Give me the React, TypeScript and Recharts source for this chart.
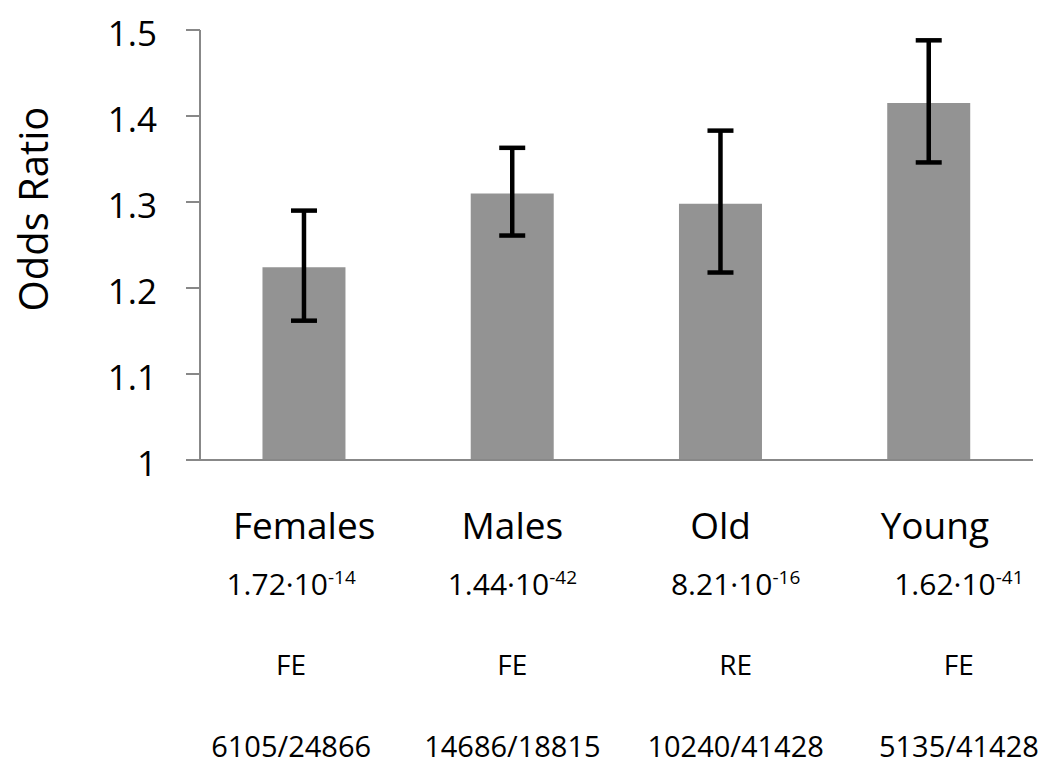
import React from "react";
import { BarChart, Bar, XAxis, YAxis, ErrorBar } from "recharts";

const categories = ["Females", "Males", "Old", "Young"];
const oddsRatio = [1.224, 1.31, 1.298, 1.415];
const ciLow = [1.162, 1.261, 1.218, 1.346];
const ciHigh = [1.29, 1.363, 1.383, 1.488];
const pMantissa = ["1.72", "1.44", "8.21", "1.62"];
const pExponent = ["-14", "-42", "-16", "-41"];
const models = ["FE", "FE", "RE", "FE"];
const counts = ["6105/24866", "14686/18815", "10240/41428", "5135/41428"];
const yTicks = [1, 1.1, 1.2, 1.3, 1.4, 1.5];

// layout-only horizontal nudges of the label lines (px)
const TITLE_SHIFT = [0, 0, 0, 6];
const LOWER_SHIFT = [-13, 0, 15, 30];

const data = categories.map((name, i) => ({
  name,
  or: oddsRatio[i],
  err: [oddsRatio[i] - ciLow[i], ciHigh[i] - oddsRatio[i]],
}));

const FONT = "'Open Sans', sans-serif";

const CategoryTick = (props: any) => {
  const { x, y, payload } = props;
  const i = categories.indexOf(payload.value);
  const s = LOWER_SHIFT[i] ?? 0;
  const t = TITLE_SHIFT[i] ?? 0;
  return (
    <g fontFamily={FONT} fill="#000">
      <text x={x + t} y={y + 79} textAnchor="middle" fontSize={37}>
        {payload.value}
      </text>
      <text x={x + s} y={y + 135} textAnchor="middle" fontSize={30}>
        {pMantissa[i]}·10
        <tspan fontSize={19} dy={-11}>
          {pExponent[i]}
        </tspan>
      </text>
      <text x={x + s} y={y + 215} textAnchor="middle" fontSize={28}>
        {models[i]}
      </text>
      <text x={x + s} y={y + 297} textAnchor="middle" fontSize={29}>
        {counts[i]}
      </text>
    </g>
  );
};

const YLabel = (props: any) => {
  const vb = props.viewBox || { x: 0, y: 22, width: 192, height: 430 };
  const cx = vb.x + 24;
  const cy = vb.y + vb.height / 2 - 36;
  return (
    <g transform={`translate(${cx}, ${cy}) rotate(-90)`}>
      <text
        x={0}
        y={0}
        textAnchor="middle"
        dominantBaseline="central"
        fontFamily={FONT}
        fontSize={40}
        fill="#000"
      >
        Odds Ratio
      </text>
    </g>
  );
};

export default function App() {
  return (
    <BarChart
      width={1042}
      height={770}
      data={data}
      margin={{ top: 22, right: 17, bottom: 0, left: 0 }}
      barCategoryGap="30%"
    >
      <XAxis
        dataKey="name"
        height={318}
        axisLine={{ stroke: "#888888", strokeWidth: 2 }}
        tickLine={false}
        tickSize={0}
        tickMargin={0}
        interval={0}
        tick={<CategoryTick />}
      />
      <YAxis
        width={192}
        domain={[1, 1.5]}
        ticks={yTicks}
        interval={0}
        allowDataOverflow
        axisLine={{ stroke: "#888888", strokeWidth: 2 }}
        tickLine={{ stroke: "#888888", strokeWidth: 2 }}
        tickSize={14}
        tickMargin={29}
        tickFormatter={(v: number) => (v === 1 ? "1" : v.toFixed(1))}
        tick={{ fontFamily: FONT, fontSize: 35, fill: "#000", dy: 4 }}
        label={{ content: <YLabel /> }}
      />
      <Bar dataKey="or" fill="#939393" isAnimationActive={false}>
        <ErrorBar
          dataKey="err"
          width={13}
          stroke="#000"
          strokeWidth={4.5}
          direction="y"
          isAnimationActive={false}
        />
      </Bar>
    </BarChart>
  );
}
